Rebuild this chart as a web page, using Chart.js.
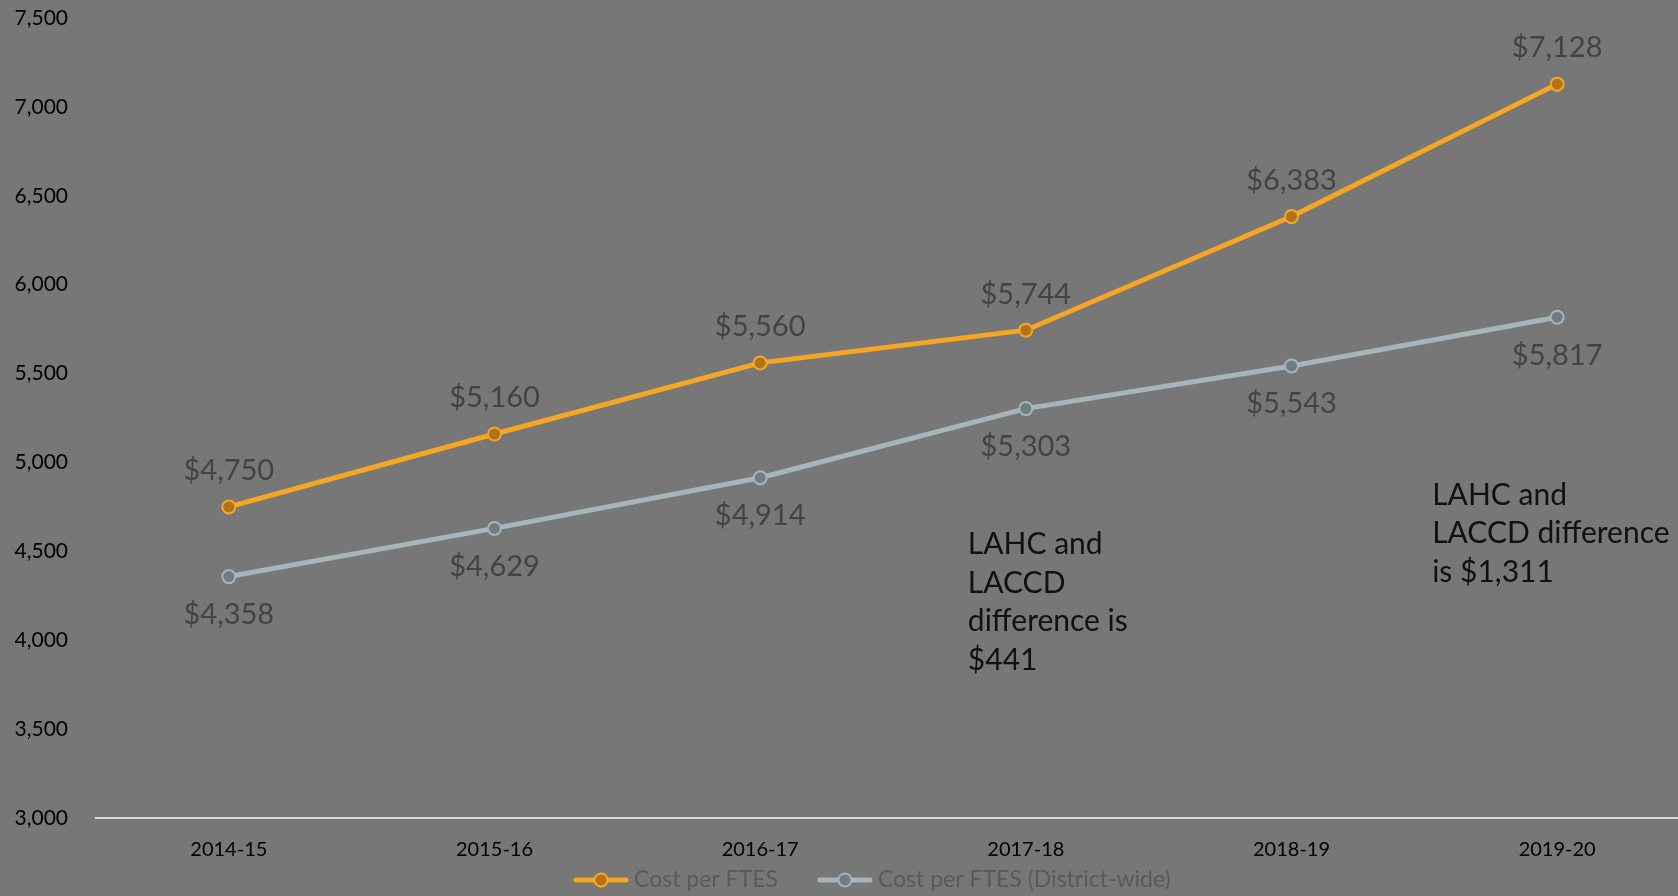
<!DOCTYPE html>
<html><head><meta charset="utf-8">
<script src="https://cdn.jsdelivr.net/npm/chart.js@4"></script>
<style>
html,body{margin:0;padding:0;background:#777777;overflow:hidden;width:1678px;height:896px}
#wrap{position:absolute;left:0;top:0;width:1692px;height:896px}
</style></head>
<body><div id="wrap"><canvas id="c" width="1692" height="896"></canvas></div>
<script>
const categories = ['2014-15','2015-16','2016-17','2017-18','2018-19','2019-20'];
const costPerFTES = [4750, 5160, 5560, 5744, 6383, 7128];
const costDistrict = [4358, 4629, 4914, 5303, 5543, 5817];
const seriesNames = ['Cost per FTES', 'Cost per FTES (District-wide)'];
const yMin = 3000, yMax = 7500, yStep = 500;
const note1Lines = ['LAHC and', 'LACCD', 'difference is', '$441'];
const note2Lines = ['LAHC and', 'LACCD difference', 'is $1,311'];

const FONT = 'Lato, "Open Sans", sans-serif';
const ORANGE = '#F6A623', ORANGE_FILL = '#B0731A';
const GREY = '#A5B5BA', GREY_FILL = '#6F7E84';

const fmt = v => v.toLocaleString('en-US');

const labelPlugin = {
  id: 'labels',
  afterDatasetsDraw(chart) {
    const ctx = chart.ctx;
    ctx.save();
    ctx.font = '29px ' + FONT;
    ctx.fillStyle = '#434343';
    ctx.textAlign = 'center';
    ctx.textBaseline = 'middle';
    chart.data.datasets.forEach((ds, di) => {
      const meta = chart.getDatasetMeta(di);
      meta.data.forEach((pt, i) => {
        const dy = di === 0 ? -36 : 38;
        ctx.fillText('$' + fmt(ds.data[i]), pt.x, pt.y + dy);
      });
    });
    // annotations
    const xs = chart.scales.x, ys = chart.scales.y;
    ctx.fillStyle = '#111111';
    ctx.textAlign = 'left';
    ctx.font = '30px ' + FONT;
    const drawNote = (lines, cat, dx, val, lh) => {
      const x0 = xs.getPixelForValue(cat) + dx;
      const y0 = ys.getPixelForValue(val);
      lines.forEach((l, k) => ctx.fillText(l, x0, y0 + k * lh));
    };
    drawNote(note1Lines, 3, -58, 4540, 38.8);
    drawNote(note2Lines, 5, -125, 4817, 38.8);
    // legend
    ctx.font = '23px ' + FONT;
    ctx.textBaseline = 'middle';
    let x = 576; const ly = 880;
    chart.data.datasets.forEach((ds, di) => {
      ctx.strokeStyle = ds.borderColor; ctx.lineWidth = 5; ctx.lineCap = 'round';
      ctx.beginPath(); ctx.moveTo(x, ly); ctx.lineTo(x + 50, ly); ctx.stroke();
      ctx.beginPath(); ctx.arc(x + 25, ly, 6.5, 0, Math.PI * 2);
      ctx.fillStyle = ds.pointBackgroundColor; ctx.fill();
      ctx.lineWidth = 2; ctx.strokeStyle = ds.pointBorderColor; ctx.stroke();
      ctx.fillStyle = '#5A5A5A';
      ctx.fillText(ds.label, x + 58, ly);
      x += 58 + ctx.measureText(ds.label).width + 42;
    });
    ctx.restore();
  }
};

new Chart(document.getElementById('c'), {
  type: 'line',
  data: {
    labels: categories,
    datasets: [
      { label: seriesNames[0], data: costPerFTES, borderColor: ORANGE, borderWidth: 5,
        pointBackgroundColor: ORANGE_FILL, pointBorderColor: ORANGE, pointBorderWidth: 2, pointRadius: 6.5, tension: 0 },
      { label: seriesNames[1], data: costDistrict, borderColor: GREY, borderWidth: 5,
        pointBackgroundColor: GREY_FILL, pointBorderColor: GREY, pointBorderWidth: 2, pointRadius: 6.5, tension: 0 }
    ]
  },
  options: {
    responsive: false,
    animation: false,
    devicePixelRatio: 1,
    layout: { autoPadding: false, padding: { top: 18, right: 2, bottom: 28, left: 0 } },
    plugins: { legend: { display: false }, tooltip: { enabled: false } },
    scales: {
      x: {
        offset: true,
        grid: { display: false, drawTicks: false },
        border: { display: true, color: '#D9D9D9', width: 2 },
        ticks: { color: '#000', font: { family: FONT, size: 20 }, padding: 20, maxRotation: 0 },
        afterFit(s) { s.height = 50; }
      },
      y: {
        min: yMin, max: yMax,
        grid: { display: false, drawTicks: false },
        border: { display: false },
        ticks: { stepSize: yStep, color: '#000', font: { family: FONT, size: 21 }, padding: 28,
                 callback: v => fmt(v) },
        afterFit(s) { s.width = 96; s.paddingTop = 0; s.paddingBottom = 0; }
      }
    }
  },
  plugins: [labelPlugin]
});
</script>
</body></html>
